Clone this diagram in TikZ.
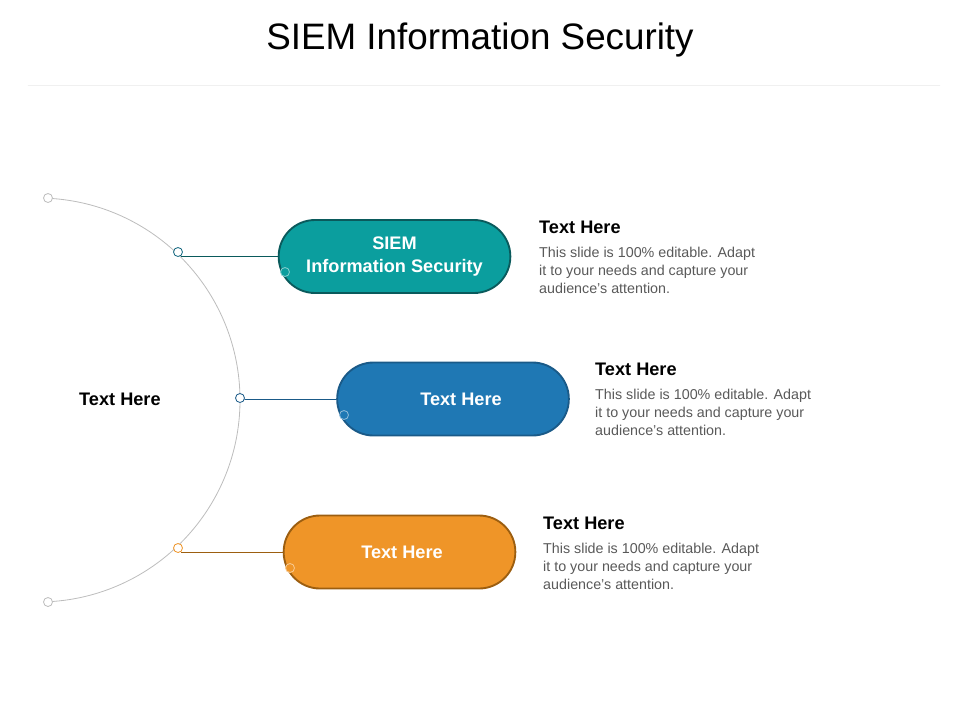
\documentclass[tikz,border=0pt]{standalone}
\usepackage{fontspec}
\setmainfont{Liberation Sans}
\usetikzlibrary{positioning, calc}

\definecolor{tealfill}{HTML}{0B9E9E}
\definecolor{tealline}{HTML}{0A5A5C}
\definecolor{bluefill}{HTML}{1F78B4}
\definecolor{blueline}{HTML}{1A5A88}
\definecolor{orangefill}{HTML}{EF9528}
\definecolor{orangeline}{HTML}{9C5E10}
\definecolor{bodygray}{HTML}{595959}
\definecolor{arcgray}{HTML}{BDBDBD}

\begin{document}
\begin{tikzpicture}[x=0.03cm, y=-0.03cm, line cap=round,
    pill/.style={rounded corners=1.09cm, minimum width=6.95cm, minimum height=2.19cm,
        line width=1.6pt, text=white, font=\fontsize{15.5}{19.5}\selectfont\bfseries, align=center},
    dot/.style={circle, draw, fill=white, inner sep=0pt, minimum size=0.27cm, line width=0.7pt},
    head/.style={anchor=west, inner sep=0pt, font=\fontsize{15.5}{17}\selectfont\bfseries},
    body/.style={anchor=north west, inner sep=0pt, align=left, text=bodygray,
        font=\fontsize{12.2}{15.3}\selectfont}]
    \useasboundingbox (0,0) rectangle (960,720);
    % title and separator
    \node (title) at (480,40) {\fontsize{31.4}{36}\selectfont SIEM Information Security};
    \draw [line width=0.4pt, black!6] (28,85) -- (940,85);
    % arc
    \draw [arcgray, line width=0.7pt] (38,400) ++(87:202) arc (87:-87:202);
    \node[dot, draw=arcgray] (top) at (48,198) {};
    \node[dot, draw=arcgray] (bot) at (48,602) {};
    \node[dot, draw=tealline!60!bluefill] (c1) at (178,252) {};
    \node[dot, draw=blueline] (c2) at (240,398) {};
    \node[dot, draw=orangefill] (c3) at (178,548) {};
    \node[head] (left) at (79,399) {Text Here};
    % pills
    \node[pill, fill=tealfill, draw=tealline] (p1) at (394.5,256.5) {SIEM\\Information Security};
    \node[pill, fill=bluefill, draw=blueline] (p2) at (453,399) {\hspace*{0.48cm}Text Here};
    \node[pill, fill=orangefill, draw=orangeline] (p3) at (399.5,552) {\hspace*{0.15cm}Text Here};
    \draw [tealline, line width=0.8pt] (c1.south east |- p1.west) -- (p1.west);
    \draw [blueline, line width=0.8pt] (c2.east |- p2.west) -- (p2.west);
    \draw [orangeline, line width=0.8pt] (c3.south east |- p3.west) -- (p3.west);
    \node[dot, fill=tealfill, draw=tealfill!50!white] (d1) at (285,272) {};
    \node[dot, fill=bluefill, draw=bluefill!50!white] (d2) at (344,415) {};
    \node[dot, fill=orangefill, draw=orangefill!50!white] (d3) at (290,568) {};
    % text blocks
    \node[head] (h1) at (539,227) {Text Here};
    \node[body] (b1) at (539,247) {This slide is 100\% editable. Adapt\\it to your needs and capture your\\audience's attention.};
    \node[head] (h2) at (595,369) {Text Here};
    \node[body] (b2) at (595,389) {This slide is 100\% editable. Adapt\\it to your needs and capture your\\audience's attention.};
    \node[head] (h3) at (543,523) {Text Here};
    \node[body] (b3) at (543,543) {This slide is 100\% editable. Adapt\\it to your needs and capture your\\audience's attention.};
\end{tikzpicture}
\end{document}
